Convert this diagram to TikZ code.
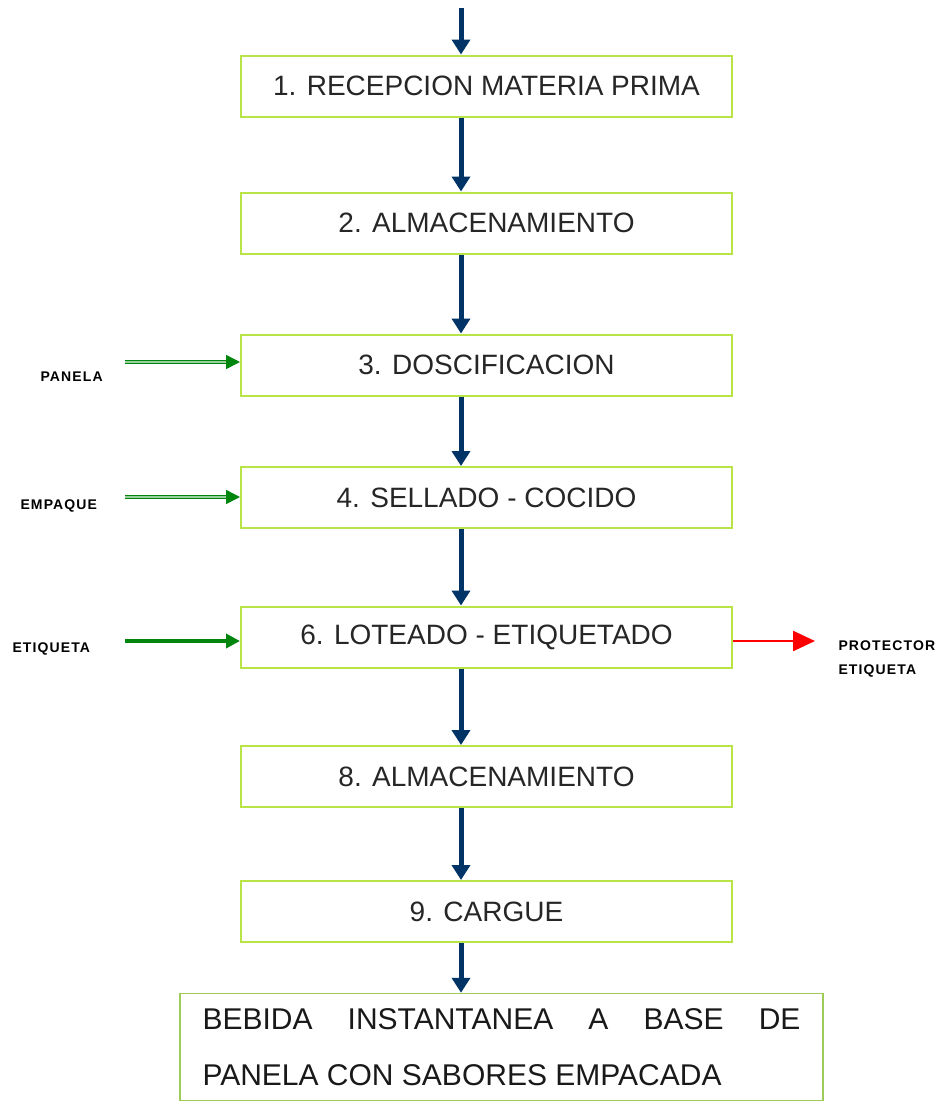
\documentclass[tikz,border=0pt]{standalone}
\usepackage{fontspec}
\setmainfont{Liberation Sans}
\usetikzlibrary{arrows.meta}
\usetikzlibrary{positioning}
\definecolor{boxgreen}{rgb}{0.72,0.90,0.27}
\definecolor{endgreen}{rgb}{0.62,0.80,0.35}
\definecolor{navy}{rgb}{0,0.2,0.4}
\definecolor{ingreen}{rgb}{0,0.52,0.05}

\begin{document}
\begin{tikzpicture}[x=1pt, y=-1pt,
	paso/.style={draw=boxgreen, line width=2pt, minimum width=491pt, minimum height=61pt, inner sep=0pt, text=black!85, font=\fontsize{28}{30}\selectfont},
	flujo/.style={navy, line width=5pt, -{Triangle[width=18pt,length=15pt]}},
	entra/.style={ingreen, line width=3.5pt, -{Triangle[width=14pt,length=14pt]}},
	entradoble/.style={draw=ingreen, double=ingreen!40!white, double distance=1.8pt, line width=1.5pt, -{Triangle[width=14pt,length=14pt]}},
	sale/.style={red, line width=2.5pt, -{Triangle[width=20pt,length=22pt]}},
	rotulo/.style={font=\fontsize{14}{24}\selectfont\bfseries\addfontfeature{LetterSpace=8}}]
	
	\useasboundingbox (0,0) rectangle (948,1109);
	
	% pasos del proceso
	\node[paso] (p1) at (486.5,86) {1. RECEPCION MATERIA PRIMA};
	\node[paso] (p2) at (486.5,223) {2. ALMACENAMIENTO};
	\node[paso] (p3) at (486.5,365) {3. DOSCIFICACION};
	\node[paso] (p4) at (486.5,497.5) {4. SELLADO - COCIDO};
	\node[paso] (p6) at (486.5,637) {6. LOTEADO - ETIQUETADO};
	\node[paso] (p8) at (486.5,776.5) {8. ALMACENAMIENTO};
	\node[paso] (p9) at (486.5,911.5) {9. CARGUE};
	\node[draw=endgreen, line width=1.5pt, minimum width=643pt, minimum height=107pt, text width=598pt, inner xsep=22pt, align=justify, text=black!90, font=\fontsize{30}{56}\selectfont] (prod) at (501.5,1047) {BEBIDA INSTANTANEA A BASE DE\linebreak PANELA CON SABORES EMPACADA};
	
	% flechas principales
	\coordinate (inicio) at (461,8);
	\draw[flujo] (inicio) -- (inicio |- p1.north);
	\draw[flujo] ([xshift=-25.5pt]p1.south) -- ([xshift=-25.5pt]p2.north);
	\draw[flujo] ([xshift=-25.5pt]p2.south) -- ([xshift=-25.5pt]p3.north);
	\draw[flujo] ([xshift=-25.5pt]p3.south) -- ([xshift=-25.5pt]p4.north);
	\draw[flujo] ([xshift=-25.5pt]p4.south) -- ([xshift=-25.5pt]p6.north);
	\draw[flujo] ([xshift=-25.5pt]p6.south) -- ([xshift=-25.5pt]p8.north);
	\draw[flujo] ([xshift=-25.5pt]p8.south) -- ([xshift=-25.5pt]p9.north);
	\draw[flujo] ([xshift=-25.5pt]p9.south) -- (prod.north -| inicio);
	
	% entradas y salidas
	\node[rotulo, anchor=west] (panela) at (37,377) {PANELA};
	\node[rotulo, anchor=west] (empaque) at (17,506) {EMPAQUE};
	\node[rotulo, anchor=west] (etiqueta) at (9,649) {ETIQUETA};
	\node[rotulo, anchor=north west, align=left] (protector) at (835,637) {PROTECTOR\\ETIQUETA};
	\coordinate (e3) at (125,362);
	\coordinate (e4) at (125,497);
	\coordinate (e6) at (125,641);
	\coordinate (s6) at (815,641);
	\draw[entradoble] (e3) -- (e3 -| p3.west);
	\draw[entradoble] (e4) -- (e4 -| p4.west);
	\draw[entra] (e6) -- (e6 -| p6.west);
	\draw[sale] (s6 -| p6.east) -- (s6);
\end{tikzpicture}
\end{document}
